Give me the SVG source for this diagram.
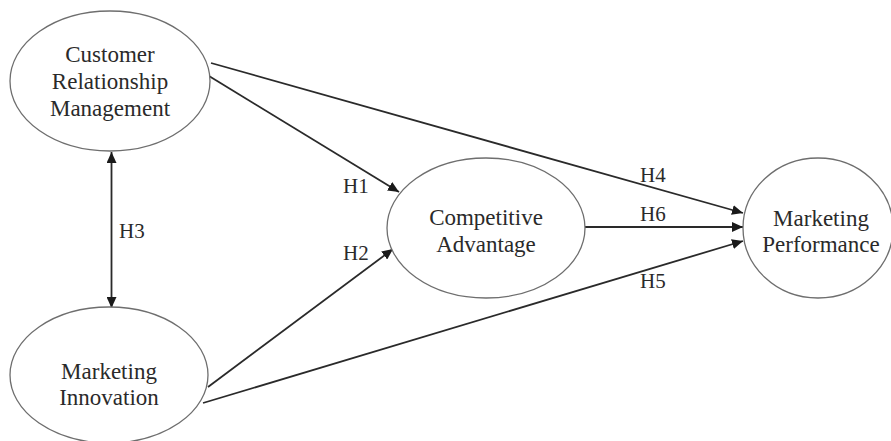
<svg xmlns="http://www.w3.org/2000/svg" width="891" height="441" viewBox="0 0 891 441">
<style>
.node ellipse{fill:#fff;stroke:#6e6e6e;stroke-width:1.3}
.node text{font-size:23px;fill:#2a2a2a;text-anchor:middle}
.lbl{font-size:21px;fill:#2a2a2a}
.edge{stroke:#2a2a2a;stroke-width:1.8;fill:none;marker-end:url(#ah)}
</style>
<defs>
<marker id="ah" markerUnits="userSpaceOnUse" markerWidth="12" markerHeight="10" refX="11" refY="5" orient="auto-start-reverse" viewBox="0 0 12 10">
<path d="M0,0 L11,5 L0,10 Z" fill="#1a1a1a"/>
</marker>
</defs>
<rect width="891" height="441" fill="#fff"/>
<g font-family="'Liberation Serif', 'DejaVu Serif', serif">
<g id="connectors">
<line class="edge" x1="111.5" y1="152" x2="111.5" y2="308" marker-start="url(#ah)"/>
<line class="edge" x1="209" y1="76" x2="399" y2="192"/>
<line class="edge" x1="211" y1="63" x2="743" y2="213"/>
<line class="edge" x1="585" y1="227" x2="743" y2="227"/>
<line class="edge" x1="208" y1="387" x2="393" y2="249"/>
<line class="edge" x1="203" y1="403" x2="743" y2="241"/>
<text class="lbl" x="343" y="193">H1</text>
<text class="lbl" x="343" y="260">H2</text>
<text class="lbl" x="119" y="238">H3</text>
<text class="lbl" x="640" y="182">H4</text>
<text class="lbl" x="640" y="288">H5</text>
<text class="lbl" x="640" y="221">H6</text>
</g>
<g id="crm" class="node">
<ellipse cx="110" cy="81" rx="100" ry="70"/>
<text x="110" y="62">Customer</text>
<text x="110" y="89">Relationship</text>
<text x="110" y="116">Management</text>
</g>
<g id="mi" class="node">
<ellipse cx="109" cy="375" rx="99" ry="68"/>
<text x="109" y="379">Marketing</text>
<text x="109" y="405">Innovation</text>
</g>
<g id="ca" class="node">
<ellipse cx="486" cy="228" rx="99" ry="70"/>
<text x="486" y="225">Competitive</text>
<text x="486" y="252">Advantage</text>
</g>
<g id="mp" class="node">
<ellipse cx="818" cy="228" rx="75" ry="70"/>
<text x="821" y="226">Marketing</text>
<text x="821" y="252">Performance</text>
</g>
</g>
</svg>
